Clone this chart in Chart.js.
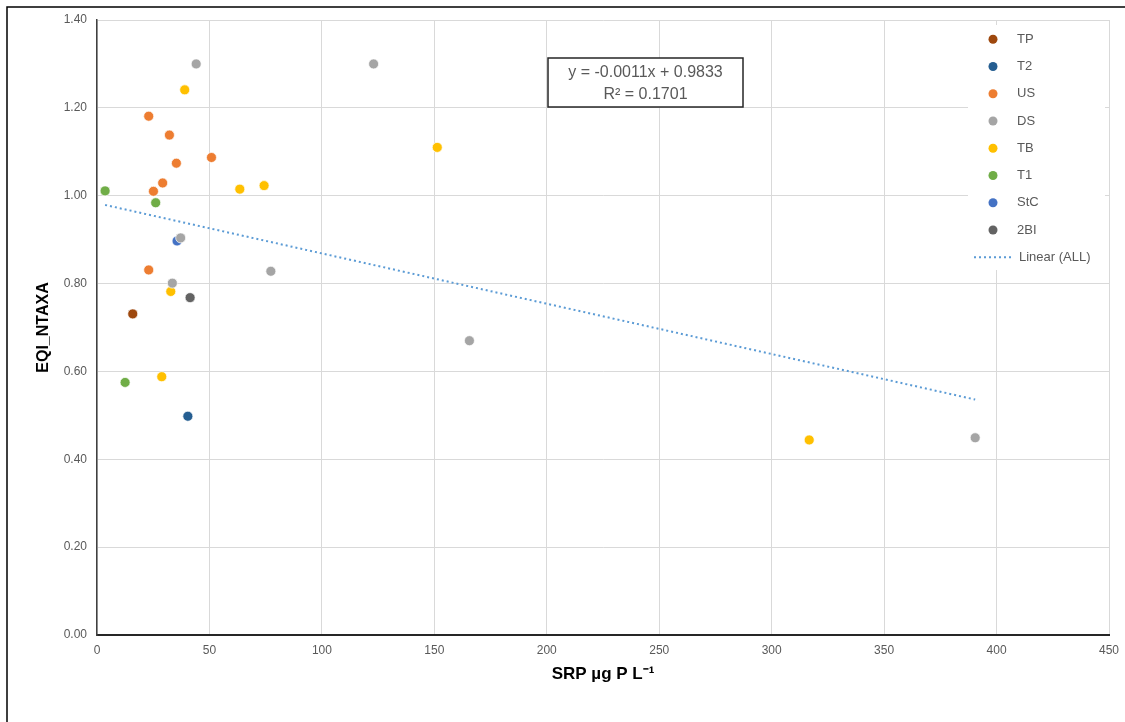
<!DOCTYPE html>
<html>
<head>
<meta charset="utf-8">
<script src="https://cdn.jsdelivr.net/npm/chart.js@4/dist/chart.umd.min.js"></script>
<style>
  html, body { margin: 0; padding: 0; background: #fff; }
  #wrap { width: 1125px; height: 722px; }
</style>
</head>
<body>
<div id="wrap"><canvas id="chart" width="1125" height="722"></canvas></div>
<script>
// site labels and colours (Excel palette)
const siteNames = ["TP", "T2", "US", "DS", "TB", "T1", "StC", "2BI"];
const siteColors = ["#9E480E", "#255E91", "#ED7D31", "#A5A5A5", "#FFC000", "#70AD47", "#4472C4", "#636363"];

// SRP (x) and EQI_NTAXA (y) per site
const tpX = [15.9];
const tpY = [0.731];
const t2X = [40.4];
const t2Y = [0.498];
const usX = [23.0, 32.2, 50.9, 35.3, 29.2, 25.1, 23.0];
const usY = [1.181, 1.138, 1.087, 1.074, 1.029, 1.010, 0.831];
const dsX = [44.1, 123.0, 37.2, 77.3, 33.5, 165.6, 390.5];
const dsY = [1.300, 1.300, 0.904, 0.828, 0.801, 0.670, 0.449];
const tbX = [39.0, 151.3, 63.5, 74.3, 32.8, 28.8, 316.7];
const tbY = [1.241, 1.110, 1.015, 1.023, 0.782, 0.588, 0.444];
const t1X = [3.6, 26.1, 12.5];
const t1Y = [1.011, 0.984, 0.575];
const stcX = [35.6];
const stcY = [0.897];
const bi2X = [41.4];
const bi2Y = [0.768];

// trend line ends (Linear (ALL)), as drawn
const trendX = [3.6, 390.5];
const trendY = [0.979, 0.536];
const trendLabel = "Linear (ALL)";
const eqLines = ["y = -0.0011x + 0.9833", "R\u00B2 = 0.1701"];

// axes
const xTicks = [0, 50, 100, 150, 200, 250, 300, 350, 400, 450];
const yTicks = [0, 0.2, 0.4, 0.6, 0.8, 1.0, 1.2, 1.4];
const xTitle = "SRP \u00B5g P L\u207B\u00B9";
const yTitle = "EQI_NTAXA";

const seriesX = [tpX, t2X, usX, dsX, tbX, t1X, stcX, bi2X];
const seriesY = [tpY, t2Y, usY, dsY, tbY, t1Y, stcY, bi2Y];

function pairs(xs, ys) {
  return xs.map((x, i) => ({ x: x, y: ys[i] }));
}

const datasets = siteNames.map((name, i) => ({
  label: name,
  data: pairs(seriesX[i], seriesY[i]),
  backgroundColor: siteColors[i],
  borderColor: "rgba(255,255,255,0.7)",
  borderWidth: 1,
  pointRadius: 5,
  showLine: false
}));

datasets.push({
  label: trendLabel,
  data: pairs(trendX, trendY),
  showLine: true,
  borderColor: "#5B9BD5",
  borderWidth: 2,
  borderDash: [2, 3],
  pointRadius: 0,
  fill: false
});

const FONT = "'Liberation Sans', Arial, sans-serif";

// page frame, equation box and legend (Excel style, inside the plot)
const extras = {
  id: "extras",
  beforeDraw(chart) {
    const ctx = chart.ctx;
    ctx.save();
    ctx.strokeStyle = "#000";
    ctx.lineWidth = 1.5;
    ctx.beginPath();
    ctx.moveTo(7, 722);
    ctx.lineTo(7, 7);
    ctx.lineTo(1125, 7);
    ctx.stroke();
    ctx.restore();
  },
  afterDraw(chart) {
    const ctx = chart.ctx;
    ctx.save();

    // legend
    ctx.fillStyle = "#fff";
    ctx.fillRect(968, 25, 137, 245);
    ctx.font = "13px " + FONT;
    ctx.textBaseline = "middle";
    ctx.textAlign = "left";
    siteNames.forEach((name, i) => {
      const y = 39.3 + i * 27.25;
      ctx.beginPath();
      ctx.arc(993, y, 4.5, 0, Math.PI * 2);
      ctx.fillStyle = siteColors[i];
      ctx.fill();
      ctx.fillStyle = "#595959";
      ctx.fillText(name, 1017, y);
    });
    const ly = 39.3 + siteNames.length * 27.25;
    ctx.strokeStyle = "#5B9BD5";
    ctx.lineWidth = 2;
    ctx.setLineDash([2, 3]);
    ctx.beginPath();
    ctx.moveTo(974, ly);
    ctx.lineTo(1012, ly);
    ctx.stroke();
    ctx.setLineDash([]);
    ctx.fillStyle = "#595959";
    ctx.fillText(trendLabel, 1019, ly);

    // equation box
    ctx.fillStyle = "#fff";
    ctx.fillRect(548, 58, 195, 49);
    ctx.strokeStyle = "#262626";
    ctx.lineWidth = 1.5;
    ctx.strokeRect(548, 58, 195, 49);
    ctx.fillStyle = "#595959";
    ctx.font = "16px " + FONT;
    ctx.textAlign = "center";
    ctx.fillText(eqLines[0], 645.5, 72.5);
    ctx.fillText(eqLines[1], 645.5, 94.5);

    ctx.restore();
  }
};

new Chart(document.getElementById("chart"), {
  type: "scatter",
  data: { datasets: datasets },
  options: {
    responsive: false,
    animation: false,
    layout: { padding: { top: 20, right: 16, bottom: 27, left: 0 } },
    plugins: {
      legend: { display: false },
      tooltip: { enabled: false }
    },
    scales: {
      x: {
        type: "linear",
        min: 0,
        max: 450,
        afterBuildTicks: (scale) => { scale.ticks = xTicks.map(v => ({ value: v })); },
        afterFit: (scale) => { scale.height = 60; scale.paddingRight = 0; },
        ticks: {
          padding: 8,
          color: "#595959",
          font: { family: FONT, size: 12 },
          maxRotation: 0
        },
        grid: { color: "#d9d9d9", lineWidth: 1, drawTicks: false },
        border: { color: "#262626", width: 2 },
        title: {
          display: true,
          text: xTitle,
          color: "#000",
          font: { family: FONT, size: 17, weight: "bold" },
          padding: { top: 0, bottom: 10 }
        }
      },
      y: {
        type: "linear",
        min: 0,
        max: 1.4,
        afterBuildTicks: (scale) => { scale.ticks = yTicks.map(v => ({ value: v })); },
        afterFit: (scale) => { scale.width = 97; },
        ticks: {
          padding: 10,
          color: "#595959",
          font: { family: FONT, size: 12 },
          callback: (v) => v.toFixed(2)
        },
        grid: { color: "#d9d9d9", lineWidth: 1, drawTicks: false },
        border: { color: "#404040", width: 1.5 },
        title: {
          display: true,
          text: yTitle,
          color: "#000",
          font: { family: FONT, size: 16, weight: "bold" },
          padding: { top: 34, bottom: 0 }
        }
      }
    }
  },
  plugins: [extras]
});
</script>
</body>
</html>
